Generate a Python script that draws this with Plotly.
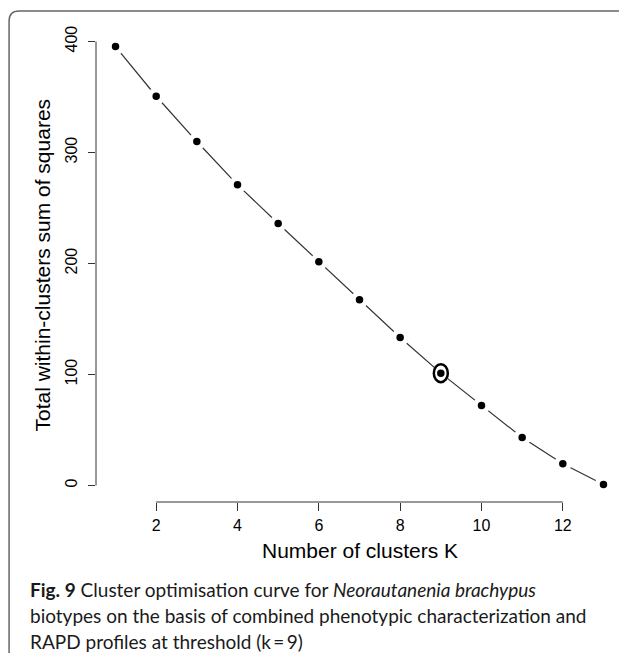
import plotly.graph_objects as go

# ---- data ----
k_values = [1, 2, 3, 4, 5, 6, 7, 8, 9, 10, 11, 12, 13]
wss_values = [395.5, 350.7, 309.9, 270.9, 236.0, 201.5, 167.3, 133.3, 101.2, 72.0, 43.2, 19.5, 0.9]
optimal_k = 9
x_ticks = [2, 4, 6, 8, 10, 12]
y_ticks = [0, 100, 200, 300, 400]
x_title = "Number of clusters K"
y_title = "Total within-clusters sum of squares"
caption_lines = [
    "<b>Fig. 9</b> Cluster optimisation curve for <i>Neorautanenia brachypus</i>",
    "biotypes on the basis of combined phenotypic characterization and",
    "RAPD profiles at threshold (k\u2009=\u20099)",
]

# ---- layout geometry (pixels, in reference-image coordinates) ----
OFF = 8                       # page body margin of the html page
W, H = 627 - OFF, 653 - OFF   # figure size
ML, MR, MT, MB = 96 - OFF, 3.5, 28.5 - OFF, 151.3
PW = W - ML - MR
PH = H - MT - MB


def px_to_paper_x(px):
    return (px - OFF - ML) / PW


def py_to_paper_y(py):
    return (H - MB - (py - OFF)) / PH


# R-like 4% axis padding
xpad = 0.04 * (max(k_values) - min(k_values))
ypad = 0.04 * (max(wss_values) - min(wss_values))
xrange_ = [min(k_values) - xpad, max(k_values) + xpad]
yrange_ = [min(wss_values) - ypad, max(wss_values) + ypad]

fig = go.Figure()
fig.add_trace(go.Scatter(
    x=k_values, y=wss_values, mode="lines+markers",
    line=dict(color="#333333", width=1.2),
    marker=dict(color="black", size=12.5, line=dict(color="white", width=5)),
    hoverinfo="x+y", showlegend=False,
))

opt_idx = k_values.index(optimal_k)
shapes = [
    dict(type="circle", xref="x", yref="y", xsizemode="pixel", ysizemode="pixel",
         xanchor=optimal_k, yanchor=wss_values[opt_idx],
         x0=-7, x1=7, y0=-9, y1=9,
         line=dict(color="black", width=2.5), layer="above"),
    dict(type="line", xref="paper", yref="y", x0=0, x1=0, y0=y_ticks[0], y1=y_ticks[-1],
         line=dict(color="#333333", width=1)),
    dict(type="line", xref="x", yref="paper", x0=x_ticks[0], x1=x_ticks[-1], y0=0, y1=0,
         line=dict(color="#333333", width=1)),
]

# rounded frame around the figure + caption
fl, ft, r = 9, 10.5, 10
x_l = px_to_paper_x(fl)
x_r = px_to_paper_x(W + 40)
y_t = py_to_paper_y(ft)
y_b = py_to_paper_y(H + 40)
path = (f"M {x_l},{y_b} L {x_l},{py_to_paper_y(ft + r)} "
        f"Q {x_l},{y_t} {px_to_paper_x(fl + r)},{y_t} L {x_r},{y_t}")
shapes.append(dict(type="path", xref="paper", yref="paper", path=path,
                   line=dict(color="#666666", width=1.5)))

axis_font = "Liberation Sans, Arial, sans-serif"
annotations = [
    dict(text=x_title, xref="paper", yref="paper", x=0.5, y=py_to_paper_y(550),
         xanchor="center", yanchor="middle", showarrow=False,
         font=dict(family=axis_font, size=21, color="black")),
    dict(text=y_title, xref="paper", yref="paper", x=px_to_paper_x(42), y=0.5,
         xanchor="center", yanchor="middle", textangle=-90, showarrow=False,
         font=dict(family=axis_font, size=21, color="black")),
]
line_centers = [589, 615, 641]
for txt, cy in zip(caption_lines, line_centers):
    annotations.append(dict(text=txt, xref="paper", yref="paper",
                            x=px_to_paper_x(28), y=py_to_paper_y(cy),
                            xanchor="left", yanchor="middle", showarrow=False,
                            font=dict(family="Lato", size=19, color="#1a1a1a")))

fig.update_layout(
    width=W, height=H, autosize=False,
    margin=dict(l=ML, r=MR, t=MT, b=MB, pad=0),
    paper_bgcolor="white", plot_bgcolor="white",
    xaxis=dict(range=xrange_, tickvals=x_ticks, ticktext=[str(v) for v in x_ticks],
               showgrid=False, zeroline=False, showline=False,
               ticks="outside", ticklen=8, tickcolor="#333333", tickwidth=1,
               ticklabelstandoff=1,
               tickfont=dict(family=axis_font, size=16, color="black")),
    yaxis=dict(range=yrange_, tickvals=y_ticks, ticktext=[str(v) for v in y_ticks],
               showgrid=False, zeroline=False, showline=False,
               ticks="outside", ticklen=7, tickcolor="#333333", tickwidth=1,
               tickangle=-90, ticklabelstandoff=5,
               tickfont=dict(family=axis_font, size=16, color="black")),
    shapes=shapes, annotations=annotations,
)

fig.write_html("out.html")
